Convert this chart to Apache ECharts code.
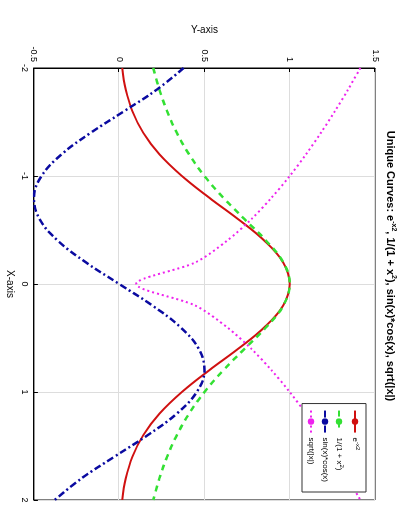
<!DOCTYPE html>
<html>
<head>
<meta charset="utf-8">
<script src="https://cdn.jsdelivr.net/npm/echarts@6/dist/echarts.min.js"></script>
<style>
  html, body { margin: 0; padding: 0; background: #fff; overflow: hidden; }
  #chart {
    position: absolute; left: -62px; top: 62px;
    width: 532px; height: 408px;
    transform: rotate(90deg); transform-origin: 50% 50%;
  }
</style>
</head>
<body>
<div id="chart"></div>
<script>
const xs = [-2, -1.8, -1.6, -1.4, -1.2, -1, -0.8, -0.6, -0.4, -0.2, 0, 0.2, 0.4, 0.6, 0.8, 1, 1.2, 1.4, 1.6, 1.8, 2];
const gauss = [0.018, 0.039, 0.077, 0.141, 0.237, 0.368, 0.527, 0.698, 0.852, 0.961, 1, 0.961, 0.852, 0.698, 0.527, 0.368, 0.237, 0.141, 0.077, 0.039, 0.018];
const lorentz = [0.2, 0.236, 0.281, 0.338, 0.41, 0.5, 0.61, 0.735, 0.862, 0.962, 1, 0.962, 0.862, 0.735, 0.61, 0.5, 0.41, 0.338, 0.281, 0.236, 0.2];
const sincos = [0.378, 0.221, 0.029, -0.167, -0.338, -0.455, -0.5, -0.466, -0.359, -0.195, 0, 0.195, 0.359, 0.466, 0.5, 0.455, 0.338, 0.167, -0.029, -0.221, -0.378];
const sqrtAbs = [1.414, 1.342, 1.265, 1.183, 1.095, 1, 0.894, 0.775, 0.632, 0.447, 0.1, 0.447, 0.632, 0.775, 0.894, 1, 1.095, 1.183, 1.265, 1.342, 1.414];

function pairs(ys) { return xs.map((x, i) => [x, ys[i]]); }

const chart = echarts.init(document.getElementById('chart'));
const font = 'Liberation Sans, Arial, sans-serif';
const sup = { fontSize: 6, verticalAlign: 'top', padding: [0, 0, 6, 0], fontFamily: font, color: '#000' };

chart.setOption({
  backgroundColor: '#fff',
  animation: false,
  textStyle: { fontFamily: font },
  title: {
    text: 'Unique Curves: e{s|-x2}, 1/(1 + x{s|2}), sin(x)*cos(x), sqrt(|x|)',
    left: 'center', top: 6,
    textStyle: {
      fontSize: 11, fontWeight: 'bold', color: '#000', fontFamily: font,
      rich: { s: { fontSize: 7, fontWeight: 'bold', verticalAlign: 'top', padding: [0, 0, 7, 0] } }
    }
  },
  grid: { left: 68, right: 32, top: 33, bottom: 33, show: true, borderColor: '#000', borderWidth: 1 },
  legend: {
    orient: 'vertical', right: 40, top: 42,
    backgroundColor: '#fff', borderColor: '#333', borderWidth: 1, padding: [5, 10, 5, 6],
    itemWidth: 22, itemHeight: 8, itemGap: 6,
    textStyle: { fontSize: 8, color: '#000', fontFamily: font, rich: { s: sup } },
    formatter: function (n) {
      return { gauss: 'e{s|-x2}', lorentz: '1/(1 + x{s|2})', sincos: 'sin(x)*cos(x)', sqrt: 'sqrt(|x|)' }[n];
    },
    data: ['gauss', 'lorentz', 'sincos', 'sqrt']
  },
  xAxis: {
    type: 'value', min: -2, max: 2, interval: 1,
    name: 'X-axis', nameLocation: 'middle', nameGap: 18,
    nameTextStyle: { fontSize: 10, color: '#000' },
    axisLine: { onZero: false, lineStyle: { color: '#000' } },
    axisTick: { inside: true, length: 4, lineStyle: { color: '#000' } },
    axisLabel: { fontSize: 9, color: '#000', margin: 5 },
    splitLine: { show: true, lineStyle: { color: '#ddd' } }
  },
  yAxis: {
    type: 'value', min: -0.5, max: 1.5, interval: 0.5,
    name: 'Y-axis', nameLocation: 'middle', nameGap: 30,
    nameTextStyle: { fontSize: 10, color: '#000' },
    axisLine: { show: true, onZero: false, lineStyle: { color: '#000' } },
    axisTick: { show: true, inside: true, length: 4, lineStyle: { color: '#000' } },
    axisLabel: { fontSize: 9, color: '#000', margin: 6 },
    splitLine: { show: true, lineStyle: { color: '#ddd' } }
  },
  series: [
    { name: 'gauss', type: 'line', data: pairs(gauss), smooth: 0.4, symbol: 'none',
      color: '#d01010', lineStyle: { width: 2, color: '#d01010' } },
    { name: 'lorentz', type: 'line', data: pairs(lorentz), smooth: 0.4, symbol: 'none',
      color: '#33e033', lineStyle: { width: 2.5, color: '#33e033', type: [6, 5] } },
    { name: 'sincos', type: 'line', data: pairs(sincos), smooth: 0.4, symbol: 'none',
      color: '#0a0aa0', lineStyle: { width: 2.5, color: '#0a0aa0', type: [7, 3, 2, 3] } },
    { name: 'sqrt', type: 'line', data: pairs(sqrtAbs), smooth: 0.3, symbol: 'none',
      color: '#ee22ee', lineStyle: { width: 2, color: '#ee22ee', type: [2, 3] } }
  ]
});
</script>
</body>
</html>
